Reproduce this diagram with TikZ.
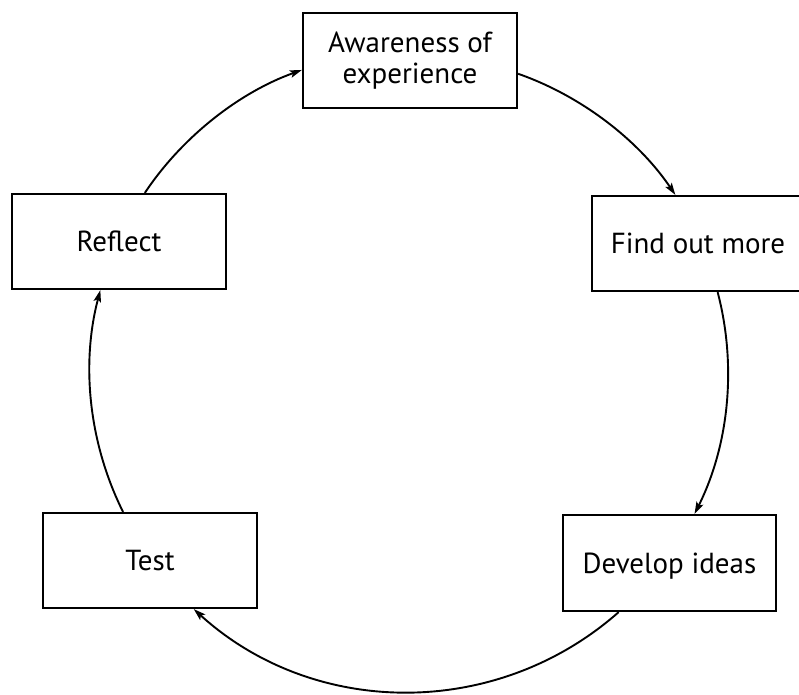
\documentclass[tikz,border=0pt]{standalone}
\usepackage{fontspec}
\setmainfont{PT Sans}
\usetikzlibrary{arrows.meta}
\begin{document}
\begin{tikzpicture}[x=1pt,y=-1pt,
  boxbase/.style={draw=black,line width=2.2pt,fill=white,inner sep=0pt,
    minimum width=214pt,minimum height=95pt,align=center,
    font=\fontsize{29}{31}\selectfont},
  box/.style={boxbase,text height=20pt,text depth=0pt},
  conn/.style={line width=1.9pt,-{Stealth[length=12pt,width=7.5pt,inset=2.5pt]}},
]
\useasboundingbox (0,0) rectangle (799,694);
\clip (0,0) rectangle (799,694);
\fill[white] (0,0) rectangle (799,694);
\node[boxbase] (aw) at (410,60.5) {Awareness of\\experience};
\node[box] (rf) at (119,241.5) {Reflect};
\node[box,minimum width=212pt] (fd) at (698,243.5) {Find out more};
\node[box,minimum width=213pt,minimum height=96pt] (dv) at (669.5,563) {Develop ideas};
\node[box] (ts) at (150,560.5) {Test};
\draw[conn] (aw.353.8) to[bend left=18.35,looseness=0.857] (fd.115.8);
\draw[conn] (fd.292.4) to[bend left=20.65,looseness=0.879] (dv.63);
\draw[conn] (dv.224.1) to[bend left=41.85,looseness=0.977] (ts.312.8);
\draw[conn] (ts.119.6) to[bend left=20.65,looseness=0.879] (rf.249.25);
\draw[conn] (rf.62) to[bend left=18.35,looseness=0.857] (aw.185.5);
\end{tikzpicture}
\end{document}
